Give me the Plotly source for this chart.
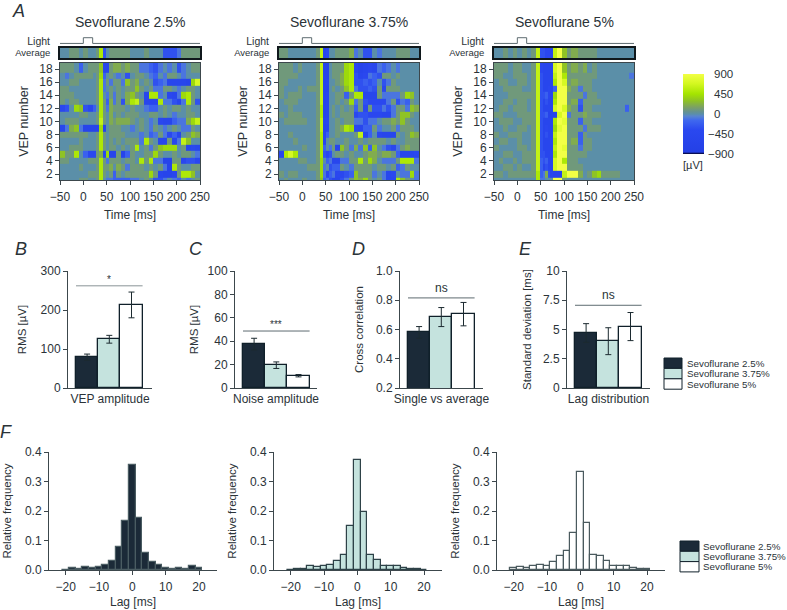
import plotly.graph_objects as go

W, H = 787, 610
FONT = "Liberation Sans"
INK = "#2b3338"
AXIS = "#3c474c"
DARK, MINT, WHITE = "#1b2a38", "#c5e3de", "#ffffff"

TITLES = ["Sevoflurane 2.5%", "Sevoflurane 3.75%", "Sevoflurane 5%"]
LATE = [70, 80, 90, 100, 110, 120, 130, 140, 150, 160, 170, 180, 190, 200, 210, 220, 230, 240, 250]
LATE_C = [70, 76, 86, 96, 106, 116, 130, 140, 150, 160, 170, 180, 190, 200, 210, 220, 230, 240, 250]
PRE = [-50, -40, -30, -20, -10, 0, 10, 20]
EDGES_A = PRE + [27, 34, 43, 49, 56, 63] + LATE
EDGES_B = PRE + [30, 37, 45, 50, 58, 64] + LATE
EDGES_C = PRE + [30, 39, 49, 55, 60, 65] + LATE_C
VEP_EDGES = [18.95] + [r - 0.5 for r in range(18, 0, -1)]
LIGHT_T = [-50, 0, 0, 20, 20, 250]
LIGHT_V = [0, 0, 1, 1, 0, 0]

# Heatmap cells, in hundreds of microvolts, rows run from VEP 18 down to VEP 1
HEAT_A = [
    [1,1,1,0,-2,0,1,1, 1,3,-5,-5,1,2, 2,1,2,1,1,-1,-1,-2,-3,-1,0,-1,0,-3,-1,0,1,1],
    [0,-1,0,1,1,1,1,0, 1,4,-2,0,1,0, -1,0,-3,0,1,1,0,-1,-2,0,-1,1,1,0,-1,0,0,0],
    [0,0,1,1,0,0,0,0, 1,5,-1,1,-1,1, 1,-1,3,1,2,0,1,0,-3,-2,-1,-5,-5,-5,-5,-6,4,7],
    [1,1,0,0,0,0,0,0, 1,5,-1,0,1,0, 1,0,1,1,3,1,0,1,-1,-1,1,1,0,-1,0,1,1,0],
    [1,1,1,0,0,0,0,0, 1,5,0,-1,1,-1, 1,0,2,3,1,0,-5,5,5,-1,0,-4,-5,-1,4,5,1,0],
    [1,0,1,1,0,0,0,0, 1,5,1,-2,2,-1, 1,-3,2,5,6,1,-5,-5,-5,5,-1,-1,-3,-5,-1,5,1,-3],
    [-4,-3,0,4,3,-3,-4,-2, 0,5,1,-1,2,1, 1,1,0,1,0,0,-1,-2,-2,0,1,0,1,1,0,1,0,0],
    [0,0,0,0,1,1,0,0, 1,5,1,0,2,0, 1,0,1,1,1,0,0,1,1,0,1,0,-1,0,0,1,1,0],
    [0,1,1,1,0,0,0,0, 1,6,1,0,2,1, 2,2,2,1,0,1,0,-1,0,-4,-5,-5,-2,-1,-1,2,4,6],
    [-5,-1,2,3,-1,-6,-6,-6, -6,4,-6,0,1,1, 1,0,0,-1,0,1,0,-1,1,0,-1,0,1,0,-1,-1,1,0],
    [1,1,1,1,1,1,0,0, 1,5,1,0,1,1, 1,1,0,0,0,-1,0,-2,-1,1,-1,-4,-2,-5,0,1,3,2],
    [0,0,0,0,1,0,0,0, 1,5,1,0,1,0, 1,0,1,1,1,-1,5,1,0,-5,-5,1,-5,-1,6,3,0,0],
    [0,0,1,1,1,0,0,0, 1,5,1,0,1,1, 0,1,0,1,5,0,1,-1,1,3,4,4,4,0,1,-5,-4,-5],
    [3,1,1,5,0,-2,-4,-4, 1,2,-4,4,-6,-6, 1,-6,-2,1,0,0,1,1,4,1,0,0,1,0,1,1,0,-1],
    [1,1,0,0,0,0,1,1, 1,5,1,-1,1,1, 1,0,1,1,0,5,1,5,-1,-1,-6,-6,1,1,-4,-3,-3,-4],
    [0,0,0,0,1,0,0,0, 1,5,1,1,2,0, 2,1,-1,1,1,1,0,1,0,1,-1,-6,5,1,0,0,1,1],
    [0,0,0,0,0,0,1,1, 1,5,1,0,1,-2, 1,0,1,1,1,1,1,4,1,-5,-6,-6,-5,1,5,5,3,0],
    [0,0,0,0,1,1,0,0, 1,5,0,-1,-1,-2, -2,-2,-2,-1,-1,0,1,0,-3,-3,-1,0,-1,-2,0,-1,0,1],
]
HEAT_B = [
    [1,1,1,0,1,0,0,0, 1,6,-6,-6,0,1, 1,1,4,5,-4,-6,-5,-4,-5,-1,-2,-1,0,-1,0,0,0,0],
    [1,1,1,1,0,0,0,0, 1,6,-6,-6,0,1, 1,2,4,5,-3,-5,-4,-1,-2,-3,1,1,0,1,0,0,0,0],
    [1,1,0,0,0,0,0,0, 1,6,-6,-5,0,0, 1,2,4,5,-3,-3,-2,-3,-2,0,-3,-1,1,0,0,0,0,0],
    [1,0,0,0,1,0,1,1, 1,6,-6,-6,0,1, 0,1,3,5,-1,-3,-3,-2,-3,1,-4,1,1,1,0,0,0,0],
    [1,0,1,1,1,0,0,0, 1,6,-6,-5,0,0, 1,1,-2,1,5,5,-5,-5,-5,1,-1,-1,-1,-1,1,4,3,0],
    [0,1,1,1,0,0,0,0, 1,6,-6,-5,0,0, 1,0,1,4,-1,1,-3,-4,-4,-4,-4,-1,1,-3,-1,-2,1,0],
    [0,0,1,0,0,0,0,0, 1,5,-6,-5,0,1, 0,1,0,1,-2,1,-4,1,-3,-3,-1,-3,-1,1,1,-1,3,2],
    [1,0,1,1,1,0,0,0, 1,5,-6,-5,0,1, 0,1,1,1,-4,-3,-3,-4,-4,-4,-5,-5,-1,1,3,3,1,0],
    [0,1,1,1,1,1,0,0, 1,6,-5,-4,0,0, 1,0,1,1,-1,-1,-3,-1,-1,0,1,1,2,1,3,1,0,0],
    [0,0,0,0,0,0,0,0, 1,6,-6,-5,0,0, 1,2,5,4,-4,-5,-2,-2,1,-1,0,0,1,-1,1,1,1,0],
    [0,0,1,0,0,0,0,0, 1,5,-5,-2,0,0, 1,0,0,0,1,6,-5,-2,0,-4,-5,-5,-5,1,0,1,3,2],
    [0,0,0,1,0,0,0,0, 1,5,-5,0,1,1, 0,0,1,0,0,1,0,1,1,1,1,0,1,0,0,1,1,1],
    [0,0,0,0,0,1,0,0, 1,5,-2,0,-1,1, -5,3,1,-1,2,-1,3,-2,3,0,-1,-3,-4,-1,1,2,1,1],
    [-5,5,7,5,0,0,0,0, 1,5,-3,-4,-3,0, 1,1,0,1,0,0,1,2,2,1,2,2,1,-2,-5,-5,-5,-4],
    [0,0,0,0,1,1,0,0, 1,4,0,-2,-1,-5, -5,-1,-1,1,1,5,1,4,2,0,-1,-1,-1,1,5,5,5,-1],
    [0,0,0,0,0,0,1,1, 1,4,-1,0,-3,-2, -2,1,0,-1,1,1,1,1,0,1,1,0,1,-2,-1,1,0,0],
    [1,0,1,1,0,0,0,0, 1,4,-1,-4,-2,-1, -4,-4,-3,-2,3,1,1,1,-1,0,-1,-5,-4,0,-1,-1,4,-1],
    [0,1,0,0,0,1,0,0, 1,3,-2,-1,-3,-5, -5,-3,-1,1,3,2,4,1,0,1,-1,-5,-5,5,3,1,0,-1],
]
HEAT_C = [
    [1,1,1,0,1,1,0,0, 1,6,-4,-5,-5,-5, -5,7,9,3,1,2,1,2,0,1,0,0,0,0,0,0,0,0],
    [1,1,0,0,1,1,1,0, 1,6,-3,-5,-5,-5, -5,6,9,5,1,1,1,1,1,1,0,0,0,0,0,0,0,-1],
    [0,1,1,0,0,1,1,0, 1,6,-3,-5,-5,-5, -5,5,9,7,1,2,1,1,1,0,0,0,0,0,0,0,0,0],
    [0,0,1,1,1,1,0,0, 1,6,-3,-5,-5,-4, -5,-2,9,9,2,1,-1,1,1,0,0,0,0,0,0,0,0,0],
    [0,0,0,1,1,1,1,1, 1,6,-3,-3,-2,-4, -5,4,9,9,1,1,1,-1,1,1,0,0,0,0,0,0,0,0],
    [0,0,1,1,0,1,1,0, 1,6,-3,-5,-3,-5, -5,5,9,9,1,2,-2,1,1,1,1,0,0,0,0,0,0,0],
    [0,1,1,0,1,1,1,0, 1,6,-3,-5,-5,-5, -5,7,9,7,2,1,-3,1,1,0,0,0,0,0,0,0,-2,0],
    [1,1,0,0,0,1,1,1, 1,6,-3,-3,-2,-6, -6,-6,7,9,-1,1,1,2,1,1,1,0,0,0,0,0,0,0],
    [0,1,1,1,0,0,1,1, 1,6,-3,-5,-5,-5, -5,5,9,8,1,1,-2,1,1,0,0,0,0,0,0,0,0,0],
    [0,0,1,0,0,1,1,0, 1,6,-3,-5,-4,-5, -5,4,8,9,1,1,1,-1,1,1,1,0,0,0,0,0,0,0],
    [1,0,0,1,1,1,0,0, 1,6,-3,-5,-3,-5, -5,6,9,9,1,1,-2,1,0,0,0,0,0,0,0,0,0,0],
    [0,1,1,0,0,1,0,0, 1,6,-3,-5,-5,-5, -4,5,9,9,1,2,-2,1,1,0,0,0,0,0,0,0,0,0],
    [1,0,0,0,0,1,1,0, 1,6,-3,-5,-5,-5, -5,6,9,8,1,1,-1,1,1,0,0,0,0,0,0,0,0,0],
    [0,0,1,1,0,0,1,1, 1,6,-3,-3,-5,-5, -4,5,9,9,1,1,1,1,0,0,0,0,0,0,0,0,0,0],
    [0,1,0,0,1,0,1,1, 1,6,-2,-3,-2,-5, -5,7,9,5,1,1,0,0,0,0,0,0,0,0,0,0,0,0],
    [0,0,1,1,0,1,0,0, 1,6,-2,-5,-3,-5, -5,7,9,9,1,1,1,0,0,0,0,0,0,0,0,0,0,0],
    [1,1,0,1,1,1,1,1, 1,5,-2,-1,2,-3, -5,-6,-6,6,9,9,2,0,1,3,4,1,1,1,1,0,0,0],
    [0,0,0,0,0,0,0,0, 0,5,-1,-1,0,0, 0,9,9,1,0,0,0,0,0,0,0,0,0,0,0,0,0,0],
]
AVG_A = [0,0,1,1,0,1,0,0, 1,5,-3,0,1,1, 1,1,1,0,0,0,1,0,0,0,-3,-3,-3,-1,1,1,1,1]
AVG_B = [1,1,0,0,0,0,0,0, 1,6,-6,-4,0,0, 1,1,1,2,-1,0,-3,-3,0,-1,0,0,0,1,1,1,0,0]
AVG_C = [0,0,1,0,1,0,1,0, 1,6,-3,-3,-4,-4, -5,6,9,3,1,2,1,1,1,1,0,0,0,0,0,0,0,0]

VEP_AMP = [79, 125, 213]
VEP_ERR = [8, 10, 33]
NOISE_AMP = [37.5, 19.5, 10.5]
NOISE_ERR = [5, 2.8, 1]
XCORR = [0.58, 0.685, 0.705]
XCORR_ERR = [0.04, 0.065, 0.08]
LAG_SD = [4.7, 4.0, 5.25]
LAG_ERR = [0.8, 1.15, 1.2]

LAG_BINS = [-20, -18, -16, -14, -12, -10, -8, -6, -4, -2, 0, 2, 4, 6, 8, 10, 12, 14, 16, 18, 20]
HIST_A = [.001, .006, .004, .010, .007, .010, .018, .030, .078, .165, .357, .175, .057, .027, .017, .006, .005, .007, .003, .012, .006]
HIST_B = [.001, .005, .004, .013, .010, .015, .018, .030, .050, .148, .372, .195, .052, .034, .014, .013, .014, .008, .002, .003, .001]
HIST_C = [.006, .010, .006, .014, .017, .012, .026, .046, .065, .124, .333, .161, .050, .047, .032, .014, .014, .012, .006, .005, .005]

COLORBAR_TICKS = [900, 450, 0, -450, -900]
COLORBAR_TEXT = ["900", "450", "0", "−450", "−900"]

COLORSCALE = [
    [0.000, "#0a0f55"], [0.012, "#0a0f55"], [0.022, "#2440e6"], [0.30, "#2a48f0"],
    [0.42, "#3f68ee"], [0.475, "#5a86cc"], [0.50, "#5b8fa8"], [0.53, "#66928f"],
    [0.58, "#7a9f68"], [0.66, "#8dc028"], [0.75, "#a4e400"], [0.88, "#d4f820"], [1.0, "#f2ff45"],
]

fig = go.Figure()
counter = [0]
shapes, notes = [], []

def px_x(a, b):
    return [a / W, b / W]

def px_y(top, bottom):
    return [1 - bottom / H, 1 - top / H]

def new_axes(box, xopts, yopts):
    counter[0] += 1
    n = counter[0]
    sfx = "" if n == 1 else str(n)
    x0, x1, y0, y1 = box
    base = dict(color=INK, tickfont=dict(size=12, color=INK, family=FONT), showgrid=False,
                zeroline=False, linecolor=AXIS, linewidth=1, tickcolor=AXIS, ticklen=4, tickwidth=1)
    xa = dict(base, domain=px_x(x0, x1), anchor="y" + sfx)
    ya = dict(base, domain=px_y(y0, y1), anchor="x" + sfx)
    xa.update(xopts)
    ya.update(yopts)
    fig.layout["xaxis" + sfx] = xa
    fig.layout["yaxis" + sfx] = ya
    return "x" + sfx, "y" + sfx

def note(x, y, text, size=12, anchor="center", italic=False, valign="middle"):
    if italic:
        text = "<i>" + text + "</i>"
    notes.append(dict(x=x / W, y=1 - y / H, xref="paper", yref="paper", text=text, showarrow=False,
                      xanchor=anchor, yanchor=valign, font=dict(size=size, family=FONT, color=INK)))

# Panel A
heat_left = [60, 279, 494]
edges = [EDGES_A, EDGES_B, EDGES_C]
heats = [HEAT_A, HEAT_B, HEAT_C]
avgs = [AVG_A, AVG_B, AVG_C]
for i in range(3):
    L = heat_left[i]
    R = L + 140
    xn, yn = new_axes((L, R, 36, 44),
                      dict(range=[-50, 250], visible=False),
                      dict(range=[-0.1, 1.3], tickvals=[0.45], ticktext=["Light"], ticklen=0, showline=False,
                           tickfont=dict(size=10.5, color=INK, family=FONT), ticklabelstandoff=9))
    fig.add_trace(go.Scatter(x=LIGHT_T, y=LIGHT_V, mode="lines", xaxis=xn, yaxis=yn, showlegend=False,
                             line=dict(color="#5d6b70", width=1)))
    xn, yn = new_axes((L, R, 48, 58),
                      dict(range=[-50, 250], showticklabels=False, ticks="", mirror=True, linewidth=1.5, linecolor="#10181c"),
                      dict(range=[0, 1], tickvals=[0.5], ticktext=["Average"], ticklen=0, mirror=True, linewidth=1.5,
                           linecolor="#10181c", tickfont=dict(size=9.5, color=INK, family=FONT), ticklabelstandoff=6))
    fig.add_trace(go.Heatmap(x=edges[i], y=[0, 1], z=[[v * 100 for v in avgs[i]]], coloraxis="coloraxis",
                             xaxis=xn, yaxis=yn, hoverinfo="skip"))
    xn, yn = new_axes((L, R, 63, 180),
                      dict(range=[-50, 250], tickvals=[-50, 0, 50, 100, 150, 200, 250], ticks="outside",
                           mirror=True, ticklabelstandoff=2,
                           title=dict(text="Time [ms]", font=dict(size=12, family=FONT, color=INK), standoff=7)),
                      dict(range=[1.09, 18.92], tickvals=list(range(2, 19, 2)), ticks="outside", mirror=True,
                           title=dict(text="VEP number", font=dict(size=12.5, family=FONT, color=INK), standoff=7)))
    fig.add_trace(go.Heatmap(x=edges[i], y=VEP_EDGES, z=[[v * 100 for v in row] for row in heats[i]],
                             coloraxis="coloraxis", xaxis=xn, yaxis=yn))
    note(L + 70, 22, TITLES[i], size=14)

# Bar panels B to E
def bar_panel(left, bar_start, right, vals, errs, yrange, ticks, ticktext, ylabel, xlabel, sig_val, sig_text, title_gap, sig_color="#5d6b70"):
    bw = 22.2
    lo = -0.5 - (bar_start - left) / bw
    hi = 2.5 + (right - (bar_start + 3 * bw)) / bw
    xn, yn = new_axes((left, right, 271, 388),
                      dict(range=[lo, hi], showticklabels=False, ticks="",
                           title=dict(text=xlabel, font=dict(size=12, family=FONT, color=INK), standoff=6)),
                      dict(range=yrange, tickvals=ticks, ticktext=ticktext, ticks="outside",
                           title=dict(text=ylabel, font=dict(size=11.5, family=FONT, color=INK), standoff=title_gap)))
    fig.add_trace(go.Bar(x=[0, 1, 2], y=vals, marker=dict(color=[DARK, MINT, WHITE], line=dict(color="#10202a", width=1.3)),
                         error_y=dict(type="data", array=errs, color="#1c2a30", thickness=1, width=3),
                         xaxis=xn, yaxis=yn, showlegend=False, width=1))
    fig.add_trace(go.Scatter(x=[-0.5, 2.5], y=[sig_val, sig_val], mode="lines", line=dict(color=sig_color, width=1),
                             xaxis=xn, yaxis=yn, showlegend=False))
    notes.append(dict(x=1, y=sig_val, xref=xn, yref=yn, text=sig_text, showarrow=False, yanchor="bottom", yshift=-1 if sig_text != "ns" else 1,
                      font=dict(size=12 if sig_text == "ns" else 10, family=FONT, color=INK)))

bar_panel(68, 76, 152, VEP_AMP, VEP_ERR, [0, 300], [0, 100, 200, 300], ["0", "100", "200", "300"],
          "RMS [µV]", "VEP amplitude", 262, "*", 11, "#8a9496")
bar_panel(235, 243, 317, NOISE_AMP, NOISE_ERR, [0, 100], [0, 20, 40, 60, 80, 100], ["0", "20", "40", "60", "80", "100"],
          "RMS [µV]", "Noise amplitude", 48.7, "***", 6)
bar_panel(400, 408, 483, XCORR, XCORR_ERR, [0.2, 1.0], [0.2, 0.4, 0.6, 0.8, 1.0], ["0.2", "0.4", "0.6", "0.8", "1.0"],
          "Cross correlation", "Single vs average", 0.816, "ns", 9)
bar_panel(567, 575, 650, LAG_SD, LAG_ERR, [0, 10], [0, 2.5, 5, 7.5, 10], ["0", "2.5", "5", "7.5", "10"],
          "Standard deviation [ms]", "Lag distribution", 7.07, "ns", 8)

# Panel F
hist_left = [49, 274, 497]
hists = [HIST_A, HIST_B, HIST_C]
hist_fill = [DARK, MINT, WHITE]
hist_line = ["#4a5c62", "#2e4248", "#4a5a5e"]
for i in range(3):
    L = hist_left[i]
    xn, yn = new_axes((L, L + 168, 452, 570),
                      dict(range=[-25, 25.4], tickvals=[-20, -10, 0, 10, 20], ticks="outside", ticklabelstandoff=2,
                           title=dict(text="Lag [ms]", font=dict(size=12, family=FONT, color=INK), standoff=4)),
                      dict(range=[0, 0.4], tickvals=[0, 0.1, 0.2, 0.3, 0.4], ticktext=["0.0", "0.1", "0.2", "0.3", "0.4"],
                           ticks="outside", title=dict(text="Relative frequency", font=dict(size=11.5, family=FONT, color=INK), standoff=10)))
    fig.add_trace(go.Bar(x=LAG_BINS, y=hists[i], width=2, marker=dict(color=hist_fill[i], line=dict(color=hist_line[i], width=1.2)),
                         xaxis=xn, yaxis=yn, showlegend=False))

# Legends
def legend_box(x0, x1, y0, row, tx):
    for k in range(3):
        shapes.append(dict(type="rect", xref="paper", yref="paper", x0=x0 / W, x1=x1 / W,
                           y0=1 - (y0 + k * row) / H, y1=1 - (y0 + (k + 1) * row) / H,
                           fillcolor=[DARK, MINT, WHITE][k], line=dict(color="#10202a", width=1)))
        note(tx, y0 + (k + 0.5) * row, TITLES[k], size=9.8, anchor="left")

legend_box(664, 682, 358, 10.4, 685)
legend_box(680, 699, 541, 10.3, 701)

note(18, 11, "A", size=18, italic=True)
note(21, 249, "B", size=18, italic=True)
note(196, 249, "C", size=18, italic=True)
note(358, 249, "D", size=18, italic=True)
note(525, 249, "E", size=18, italic=True)
note(6, 432, "F", size=18, italic=True)
note(693, 165.5, "[µV]", size=11)

# Colourbar labels: digits line up, minus signs hang to the left
for tick, label in zip(COLORBAR_TICKS, COLORBAR_TEXT):
    notes.append(dict(xref="paper", yref="paper", x=(712 if tick >= 0 else 706) / W,
                      y=1 - (74 + (900 - tick) / 1800 * 79.5) / H, text=label, showarrow=False,
                      xanchor="left", yanchor="middle", font=dict(size=11.5, family=FONT, color=INK)))

fig.update_layout(
    width=W, height=H, margin=dict(l=0, r=0, t=0, b=0, autoexpand=False), paper_bgcolor="white", plot_bgcolor="white",
    font=dict(family=FONT, color=INK, size=12), showlegend=False, bargap=0, barmode="overlay",
    shapes=shapes, annotations=notes,
    coloraxis=dict(cmin=-900, cmax=900, colorscale=COLORSCALE,
                   colorbar=dict(x=683 / W, xanchor="left", xpad=0, ypad=0, y=1 - 74 / H, yanchor="top",
                                 lenmode="pixels", len=80, thicknessmode="pixels", thickness=21,
                                 showticklabels=False, ticks="", outlinewidth=0)),
)
fig.write_html("out.html", post_script="document.body.style.margin='0';", config={"displayModeBar": False})
